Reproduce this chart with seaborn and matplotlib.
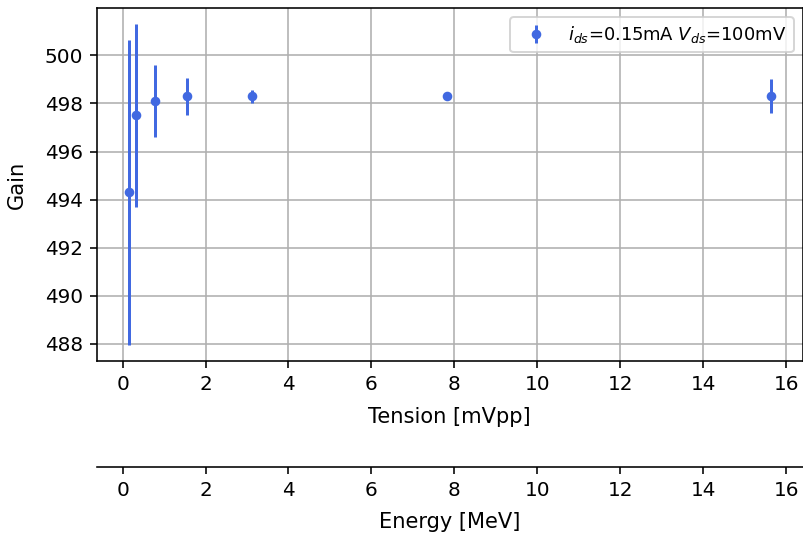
import numpy as np
import seaborn as sns
import matplotlib
matplotlib.use("Agg")
import matplotlib.pyplot as plt

# measured points
tension = [0.156, 0.3125, 0.78, 1.5625, 3.125, 7.8125, 15.625]
gain = [494.3, 497.5, 498.1, 498.3, 498.3, 498.3, 498.3]
gain_err = [6.35, 3.8, 1.5, 0.78, 0.28, 0.15, 0.7]
label = r"$i_{ds}$=0.15mA $V_{ds}$=100mV"

sns.set_style("ticks", {"axes.grid": True, "grid.color": "#b0b0b0",
                        "axes.edgecolor": "black", "text.color": "black",
                        "axes.labelcolor": "black", "xtick.color": "black",
                        "ytick.color": "black", "xtick.bottom": True,
                        "ytick.left": True})
plt.rcParams["font.family"] = ["DejaVu Sans"]
plt.rcParams["mathtext.fontset"] = "dejavusans"

fig, ax = plt.subplots(figsize=(803 / 144, 539 / 144), dpi=144)
fig.subplots_adjust(left=0.1208, right=0.9995, top=0.985, bottom=0.330)

ax.errorbar(tension, gain, yerr=gain_err, fmt="o", color="royalblue",
            markersize=3.8, elinewidth=1.5, label=label)
ax.set_xlabel("Tension [mVpp]", fontsize=10.5, labelpad=6.5)
ax.set_ylabel("Gain", fontsize=10.5, labelpad=9)
ax.set_yticks(np.arange(488, 501, 2))
ax.set_xticks(np.arange(0, 17, 2))
ax.tick_params(labelsize=10, length=3.5, width=0.8)
ax.grid(True, color="#b0b0b0", linewidth=0.8)
ax.legend(loc="upper right", fontsize=9)

# second axis for the energy scale
ax2 = ax.twiny()
ax2.set_xlim(ax.get_xlim())
ax2.xaxis.set_ticks_position("bottom")
ax2.xaxis.set_label_position("bottom")
ax2.spines["bottom"].set_position(("axes", -0.3))
for s in ["top", "left", "right"]:
    ax2.spines[s].set_visible(False)
ax2.set_xticks(np.arange(0, 17, 2))
ax2.tick_params(labelsize=10, length=3.5, width=0.8)
ax2.set_xlabel("Energy [MeV]", fontsize=10.5, labelpad=5.8)
ax2.grid(False)

fig.savefig("out.png", dpi=144)
